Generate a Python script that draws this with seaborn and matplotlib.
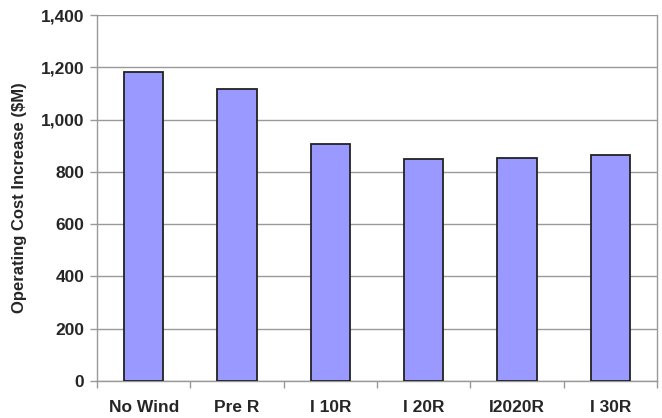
import pandas as pd
import numpy as np
import seaborn as sns
import matplotlib.pyplot as plt
from matplotlib.ticker import FuncFormatter, FixedLocator

# data
scenarios = ['No Wind', 'Pre R', 'I 10R', 'I 20R', 'I2020R', 'I 30R']
cost_increase = [1182, 1117, 907, 849, 853, 864]

df = pd.DataFrame({'scenario': scenarios, 'cost': cost_increase})

sns.set_style('white')
plt.rcParams['font.family'] = ['Liberation Sans', 'DejaVu Sans']

fig = plt.figure(figsize=(6.62, 4.18), dpi=100)
ax = fig.add_axes([0.1465, 0.0885, 0.8459, 0.8755])

sns.barplot(data=df, x='scenario', y='cost', color='#9999FF', saturation=1,
            edgecolor='#222222', linewidth=1.3, width=0.42, ax=ax, zorder=3)

ax.set_ylim(0, 1400)
ax.set_xlim(-0.5, len(scenarios) - 0.5)
ax.set_yticks(np.arange(0, 1401, 200))
ax.yaxis.set_major_formatter(FuncFormatter(lambda v, _: f'{v:,.0f}'))
ax.yaxis.grid(True, color='#999999', linewidth=1, zorder=0)
ax.set_axisbelow(True)

# ticks between categories on x
ax.xaxis.set_minor_locator(FixedLocator(np.arange(-0.5, len(scenarios), 1)))
ax.tick_params(axis='x', which='major', length=0, pad=14, labelsize=12.5)
ax.tick_params(axis='x', which='minor', length=5, color='#999999', width=1, bottom=True)
ax.tick_params(axis='y', length=5, color='#999999', width=1, labelsize=12.5, left=True, pad=4)
for lab in ax.get_xticklabels() + ax.get_yticklabels():
    lab.set_fontweight('bold')

ax.set_xlabel('')
ax.set_ylabel('Operating Cost Increase ($M)', fontsize=12, fontweight='bold', labelpad=10)

for side in ['left', 'bottom', 'right']:
    ax.spines[side].set_color('#999999')
    ax.spines[side].set_linewidth(1)
ax.spines['top'].set_visible(False)

fig.savefig('out.png', dpi=100)
